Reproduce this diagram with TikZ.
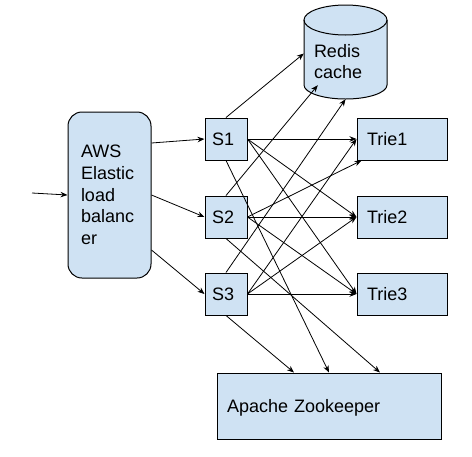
\documentclass[tikz,border=0pt]{standalone}
\usepackage{fontspec}
\setmainfont{Liberation Sans}
\usetikzlibrary{arrows.meta,calc}
\definecolor{boxfill}{HTML}{CFE2F3}
\begin{document}
\begin{tikzpicture}[x=1pt,y=-1pt,
  box/.style={draw=black, line width=1pt, fill=boxfill, inner ysep=0pt, align=left,
    font=\fontsize{18}{21.7}\selectfont},
  lbbox/.style={box, rounded corners=14pt, minimum width=83pt, minimum height=166pt,
    text width=57pt, inner xsep=13pt},
  sbox/.style={box, minimum height=42pt, text width=28pt, inner xsep=7pt,
    text height=13pt, text depth=0pt},
  tbox/.style={box, minimum height=42pt, text width=70pt, inner xsep=10pt,
    text height=13pt, text depth=0pt},
  zkbox/.style={box, minimum height=66pt, text width=204pt, inner xsep=10pt,
    text height=13pt, text depth=0pt},
  rtext/.style={minimum width=83pt, minimum height=75pt, text width=63pt, inner xsep=10pt,
    inner ysep=0pt, align=left, font=\fontsize{18}{21.7}\selectfont},
  arr/.style={-{Stealth[length=7pt,width=5.5pt]}, line width=0.8pt}]
\useasboundingbox (0,0) rectangle (472,456);
% Redis cylinder
\fill[boxfill] (304,20) -- (304,85) arc[start angle=180, end angle=0, x radius=41.5, y radius=14] -- (387,20) -- cycle;
\filldraw[fill=boxfill, line width=1pt] (345.5,20) ellipse [x radius=41.5, y radius=15];
\draw[line width=1pt] (304,20) -- (304,85) arc[start angle=180, end angle=0, x radius=41.5, y radius=14] -- (387,20);
\node[rtext] (redis) at (345.5,61.5) {Redis\\cache};
% boxes
\node[lbbox] (lb) at (109.5,195) {AWS\\Elastic\\load\\balanc\\er};
\node[sbox] (s1) at (226,139) {S1};
\node[sbox] (s2) at (226,217) {S2};
\node[sbox] (s3) at (226,294) {S3};
\node[tbox] (t1) at (402,139) {Trie1};
\node[tbox] (t2) at (402,217) {Trie2};
\node[tbox] (t3) at (402,294) {Trie3};
\node[zkbox] (zk) at (329,406) {Apache Zookeeper};
% arrows
\coordinate (in0) at (32,193);
\draw[arr] (in0) -- (lb.west);
\draw[arr] ($(lb.east)+(0,-52)$) -- (s1.west);
\draw[arr] (lb.east) -- (s2.west);
\draw[arr] ($(lb.east)+(0,55)$) -- (s3.west);
\draw[arr] (s1.north) -- ($(redis.west)+(0,-8)$);
\draw[arr] (s2.north) -- ($(redis.south west)+(14,-14)$);
\draw[arr] (s3.north) -- (redis.south);
\draw[arr] (s1.east) -- (t1.west);
\draw[arr] (s1.east) -- (t2.west);
\draw[arr] (s1.east) -- (t3.west);
\draw[arr] (s2.east) -- ($(t1.south west)+(5,0)$);
\draw[arr] (s2.east) -- (t2.west);
\draw[arr] (s2.east) -- (t3.west);
\draw[arr] (s3.east) -- (t1.west);
\draw[arr] (s3.east) -- (t2.west);
\draw[arr] (s3.east) -- (t3.west);
\draw[arr] (s1.south) -- (zk.north);
\draw[arr] (s2.south) -- ($(zk.north)+(51,0)$);
\draw[arr] (s3.south) -- ($(zk.north)+(-35,0)$);
\end{tikzpicture}
\end{document}
